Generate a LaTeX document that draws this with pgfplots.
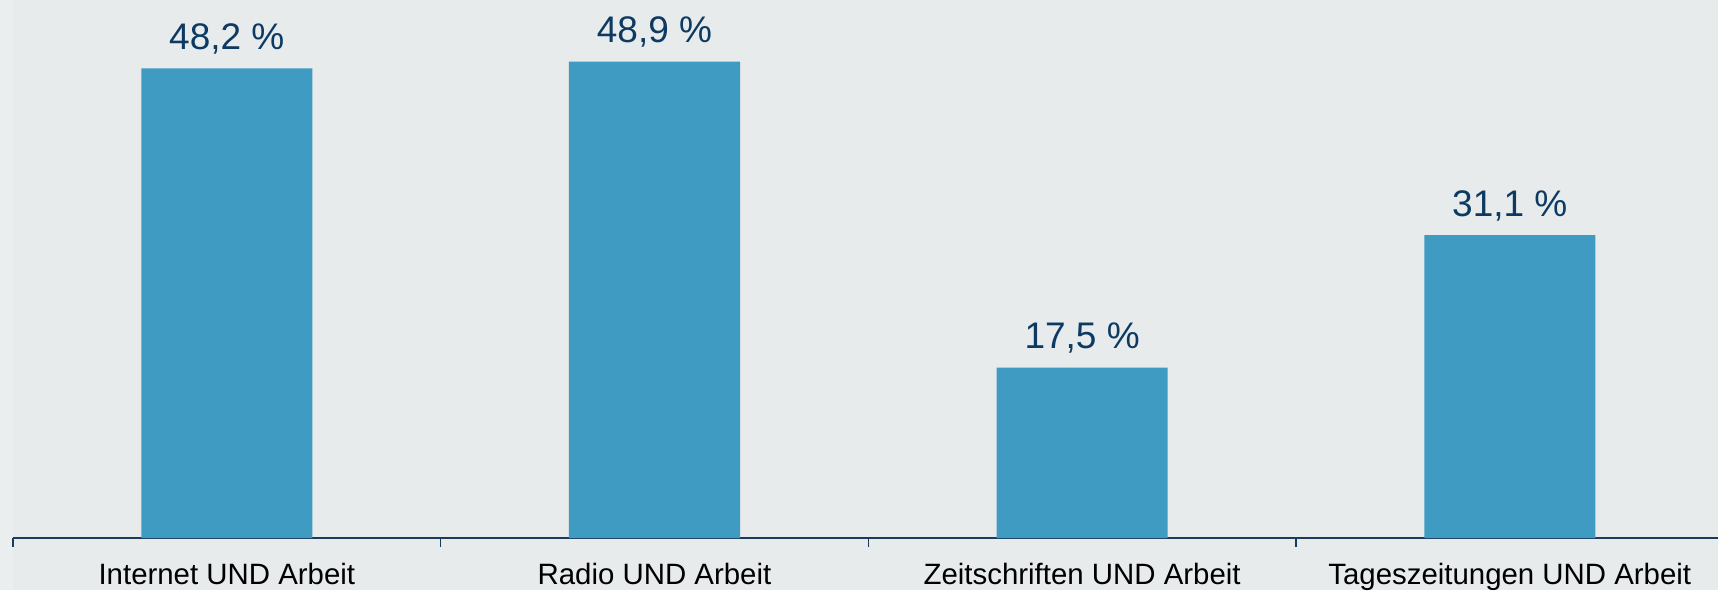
\documentclass[border=0pt]{standalone}
\usepackage{pgfplots}
\pgfplotsset{compat=1.18}
\usepackage{fontspec}
\setmainfont{Liberation Sans}
\definecolor{bg}{HTML}{E8EBEC}
\definecolor{bgl}{HTML}{EBEEEF}
\definecolor{barc}{HTML}{3F9BC1}
\definecolor{navy}{HTML}{0D3A63}
\definecolor{axisc}{HTML}{1A3A5E}
\begin{document}
\begin{tikzpicture}
\fill[bg] (-6.5pt,-26pt) rectangle (852.5pt,269pt);
\fill[bgl] (-6.5pt,-26pt) rectangle (0pt,269pt);
\begin{axis}[
  at={(0,0)}, anchor=south west,
  scale only axis, width=855.3pt, height=269pt,
  xmin=-0.5, xmax=3.5, ymin=0, ymax=55.23,
  axis x line*=bottom, axis y line=none,
  x axis line style={axisc, line width=1pt},
  xtick={0,1,2,3},
  xticklabels={Internet UND Arbeit, Radio UND Arbeit, Zeitschriften UND Arbeit, Tageszeitungen UND Arbeit},
  minor xtick={-0.5,0.5,1.5,2.5},
  major tick length=0pt, minor tick length=4.5pt,
  tick align=outside,
  minor tick style={axisc, line width=0.6pt},
  xticklabel style={font=\fontsize{14.7}{16}\selectfont, text=black, anchor=base, yshift=-23pt, inner sep=0pt},
  ybar, bar width=0.4,
  nodes near coords={\pgfmathprintnumber{\pgfplotspointmeta}~\%},
  every node near coord/.append style={font=\fontsize{18.5}{22}\selectfont, text=navy, anchor=base, inner sep=0pt, yshift=9.5pt},
  /pgf/number format/.cd, fixed, precision=1, fixed zerofill, use comma, assume math mode=true,
]
\addplot[fill=barc, draw=none] coordinates {(0,48.2) (1,48.9) (2,17.5) (3,31.1)};
\end{axis}
\pgfresetboundingbox
\useasboundingbox (-6.5pt,-26pt) rectangle (852.5pt,269pt);
\end{tikzpicture}
\end{document}
